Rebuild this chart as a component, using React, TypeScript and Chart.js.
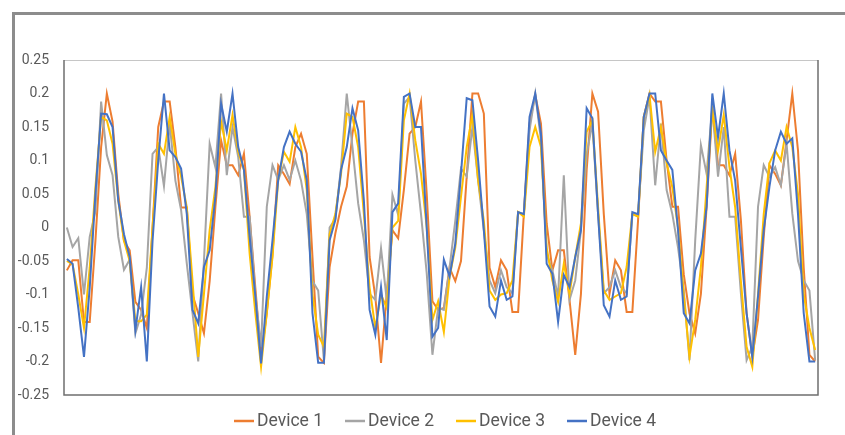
import React, { useEffect, useRef } from 'react';
import { Chart, registerables } from 'chart.js';

Chart.register(...registerables);

// 132 samples per device
const categories: string[] = Array.from({ length: 132 }, (_, i) => String(i + 1));

const seriesNames = ['Device 1', 'Device 2', 'Device 3', 'Device 4'];
const seriesColors = ['#ED7D31', '#A5A5A5', '#FFC000', '#4472C4'];

const device1 = [
  -0.064, -0.049, -0.049, -0.141, -0.141, -0.02, 0.12, 0.2, 0.158, 0.05,
  -0.02, -0.034, -0.111, -0.123, -0.15, 0.0, 0.15, 0.188, 0.188, 0.12,
  0.03, 0.03, -0.1, -0.128, -0.158, -0.08, 0.03, 0.13, 0.093, 0.093,
  0.078, 0.11, 0.016, -0.09, -0.193, -0.128, -0.04, 0.093, 0.08, 0.065,
  0.12, 0.14, 0.11, -0.044, -0.193, -0.202, -0.059, -0.009, 0.031, 0.061,
  0.14, 0.188, 0.188, -0.044, -0.103, -0.202, -0.1, -0.004, -0.016, 0.056,
  0.14, 0.15, 0.188, 0.05, -0.11, -0.123, -0.12, -0.06, -0.08, -0.05,
  0.076, 0.2, 0.2, 0.17, -0.06, -0.089, -0.049, -0.064, -0.126, -0.126,
  0.02, 0.155, 0.198, 0.155, 0.006, -0.064, -0.034, -0.034, -0.108, -0.19,
  -0.099, 0.086, 0.2, 0.173, 0.02, -0.099, -0.049, -0.064, -0.126, -0.126,
  0.011, 0.165, 0.2, 0.188, 0.188, 0.1, 0.031, 0.031, -0.07, -0.128,
  -0.158, -0.099, 0.031, 0.18, 0.093, 0.093, 0.078, 0.11, 0.011, -0.128,
  -0.193, -0.138, -0.014, 0.093, 0.08, 0.063, 0.13, 0.2, 0.115, -0.06,
  -0.19, -0.2,
];

const device2 = [
  0.0, -0.029, -0.016, -0.1, -0.014, 0.024, 0.188, 0.108, 0.078, -0.014,
  -0.063, -0.048, -0.158, -0.13, -0.06, 0.11, 0.12, 0.062, 0.155, 0.07,
  0.026, -0.054, -0.128, -0.2, -0.05, 0.125, 0.09, 0.2, 0.078, 0.15,
  0.105, 0.016, 0.016, -0.1, -0.178, 0.031, 0.093, 0.071, 0.093, 0.071,
  0.1, 0.07, 0.02, -0.08, -0.094, -0.198, 0.0, 0.013, 0.09, 0.2,
  0.12, 0.036, -0.019, -0.099, -0.108, -0.031, -0.108, 0.049, 0.019, 0.185,
  0.195, 0.1, 0.02, -0.068, -0.19, -0.12, -0.123, -0.06, 0.01, 0.088,
  0.076, 0.15, 0.07, -0.004, -0.079, -0.098, -0.064, -0.089, -0.098, 0.023,
  0.02, 0.145, 0.2, 0.13, -0.04, -0.064, -0.103, 0.078, -0.108, -0.079,
  -0.004, 0.11, 0.155, 0.02, -0.098, -0.089, -0.064, -0.089, -0.098, 0.02,
  0.02, 0.145, 0.195, 0.063, 0.155, 0.056, 0.02, -0.03, -0.094, -0.198,
  -0.02, 0.123, 0.08, 0.18, 0.076, 0.15, 0.016, 0.016, -0.098, -0.198,
  -0.178, 0.031, 0.093, 0.076, 0.09, 0.063, 0.125, 0.021, -0.05, -0.079,
  -0.094, -0.198,
];

const device3 = [
  -0.05, -0.055, -0.1, -0.15, -0.06, 0.06, 0.165, 0.16, 0.125, 0.04,
  -0.02, -0.05, -0.14, -0.14, -0.13, 0.0, 0.125, 0.11, 0.165, 0.11,
  0.076, 0.03, -0.08, -0.193, -0.099, -0.004, 0.06, 0.158, 0.115, 0.168,
  0.113, 0.086, -0.039, -0.128, -0.208, -0.128, -0.044, 0.071, 0.113, 0.098,
  0.15, 0.12, 0.056, -0.1, -0.16, -0.178, -0.01, 0.02, 0.08, 0.17,
  0.165, 0.12, 0.02, -0.09, -0.15, -0.1, -0.12, 0.0, 0.01, 0.16,
  0.2, 0.13, 0.08, 0.0, -0.138, -0.11, -0.156, -0.074, -0.03, 0.046,
  0.12, 0.168, 0.07, 0.01, -0.094, -0.108, -0.1, -0.098, -0.079, 0.023,
  0.016, 0.12, 0.15, 0.12, -0.03, -0.079, -0.111, -0.054, -0.099, -0.044,
  0.006, 0.143, 0.16, 0.03, -0.094, -0.108, -0.103, -0.098, -0.059, 0.02,
  0.016, 0.165, 0.198, 0.113, 0.15, 0.096, 0.06, 0.0, -0.1, -0.193,
  -0.138, -0.059, 0.06, 0.175, 0.115, 0.168, 0.09, 0.03, -0.08, -0.178,
  -0.208, -0.1, 0.02, 0.096, 0.115, 0.1, 0.15, 0.12, 0.05, -0.1,
  -0.15, -0.183,
];

const device4 = [
  -0.047, -0.054, -0.12, -0.193, -0.09, 0.05, 0.17, 0.169, 0.15, 0.04,
  -0.01, -0.044, -0.153, -0.089, -0.2, -0.02, 0.1, 0.2, 0.115, 0.105,
  0.088, 0.02, -0.123, -0.143, -0.059, -0.034, 0.046, 0.185, 0.143, 0.2,
  0.12, 0.086, -0.014, -0.103, -0.203, -0.103, -0.019, 0.071, 0.12, 0.143,
  0.125, 0.113, 0.071, -0.128, -0.202, -0.202, -0.019, 0.011, 0.086, 0.12,
  0.178, 0.145, 0.04, -0.123, -0.16, -0.089, -0.168, 0.023, 0.036, 0.195,
  0.2, 0.15, 0.15, 0.0, -0.163, -0.15, -0.048, -0.073, -0.024, 0.08,
  0.193, 0.19, 0.1, -0.004, -0.118, -0.133, -0.079, -0.108, -0.103, 0.023,
  0.02, 0.165, 0.2, 0.14, -0.054, -0.069, -0.141, -0.071, -0.089, -0.044,
  -0.004, 0.178, 0.163, 0.02, -0.116, -0.133, -0.079, -0.108, -0.103, 0.023,
  0.02, 0.165, 0.2, 0.2, 0.115, 0.1, 0.086, -0.004, -0.128, -0.143,
  -0.064, -0.039, 0.031, 0.2, 0.135, 0.2, 0.115, 0.07, -0.03, -0.128,
  -0.193, -0.103, -0.004, 0.061, 0.115, 0.143, 0.125, 0.133, 0.02, -0.128,
  -0.2, -0.2,
];

const yTickValues = [-0.25, -0.2, -0.15, -0.1, -0.05, 0, 0.05, 0.1, 0.15, 0.2, 0.25];
const yTickLabels = ['-0.25', '-0.2', '-0.15', '-0.1', '-0.05', '0', '0.05', '0.1', '0.15', '0.2', '0.25'];

const plotFrame = {
  id: 'plotFrame',
  beforeDatasetsDraw(chart: any) {
    const { ctx, chartArea } = chart;
    const { left, right, top, bottom } = chartArea;
    ctx.save();
    ctx.strokeStyle = '#c6c6c6';
    ctx.lineWidth = 1;
    ctx.beginPath();
    ctx.moveTo(left, top + 0.5);
    ctx.lineTo(right, top + 0.5);
    ctx.stroke();
    ctx.strokeStyle = '#6f6f6f';
    ctx.lineWidth = 1.5;
    ctx.beginPath();
    ctx.moveTo(left, top);
    ctx.lineTo(left, bottom);
    ctx.lineTo(right, bottom);
    ctx.lineTo(right, top);
    ctx.stroke();
    ctx.restore();
  },
};

const bottomLegend = {
  id: 'bottomLegend',
  afterDraw(chart: any) {
    const { ctx } = chart;
    const y = 421;
    let x = 234;
    ctx.save();
    ctx.font = '17.5px Roboto';
    ctx.textBaseline = 'middle';
    ctx.textAlign = 'left';
    chart.data.datasets.forEach((ds: any) => {
      ctx.strokeStyle = ds.borderColor;
      ctx.lineWidth = 2.5;
      ctx.beginPath();
      ctx.moveTo(x, y);
      ctx.lineTo(x + 20, y);
      ctx.stroke();
      ctx.fillStyle = '#595959';
      ctx.fillText(ds.label, x + 23, y + 1);
      const w = ctx.measureText(ds.label).width;
      x += 20 + 3 + w + 22;
    });
    ctx.restore();
  },
};

export default function App() {
  const canvasRef = useRef<HTMLCanvasElement | null>(null);

  useEffect(() => {
    if (!canvasRef.current) return;
    const seriesData = [device1, device2, device3, device4];
    const chart = new Chart(canvasRef.current, {
      type: 'line',
      data: {
        labels: categories,
        datasets: seriesNames.map((name, k) => ({
          label: name,
          data: seriesData[k],
          borderColor: seriesColors[k],
          backgroundColor: seriesColors[k],
          borderWidth: 2,
          pointRadius: 0,
          tension: 0,
          fill: false,
          order: 3 - k,
        })),
      },
      options: {
        animation: false,
        responsive: false,
        maintainAspectRatio: false,
        layout: { padding: { top: 60, right: 27, bottom: 40, left: 0 } },
        plugins: {
          legend: { display: false },
          tooltip: { enabled: false },
        },
        scales: {
          x: { type: 'category', display: false, offset: true },
          y: {
            min: -0.25,
            max: 0.25,
            afterFit: (s: any) => {
              s.width = 64;
            },
            afterBuildTicks: (s: any) => {
              s.ticks = yTickValues.map((v) => ({ value: v }));
            },
            grid: { display: false, drawTicks: false },
            border: { display: false },
            ticks: {
              padding: 15,
              color: '#595959',
              font: { family: 'Roboto', size: 14 },
              callback: (_v: any, i: number) => yTickLabels[i],
            },
          },
        },
      },
      plugins: [plotFrame, bottomLegend],
    });
    return () => chart.destroy();
  }, []);

  return (
    <div
      style={{
        position: 'absolute',
        left: 0,
        top: 0,
        width: 845,
        height: 435,
        overflow: 'hidden',
        background: '#ffffff',
      }}
    >
      <div
        style={{
          position: 'absolute',
          left: 12,
          top: 12,
          width: 900,
          height: 500,
          border: '3px solid #8c8c8c',
          boxSizing: 'border-box',
        }}
      />
      <canvas
        ref={canvasRef}
        width={845}
        height={435}
        style={{ position: 'absolute', left: 0, top: 0, width: 845, height: 435 }}
      />
    </div>
  );
}
